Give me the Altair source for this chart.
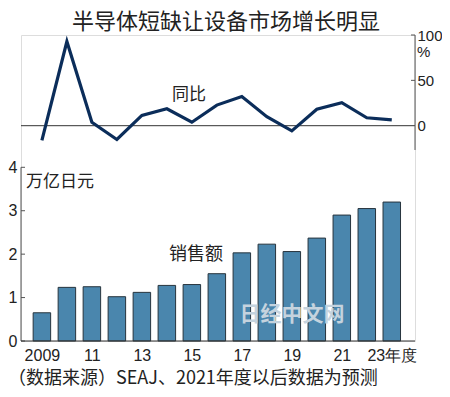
import altair as alt
import pandas as pd

years = list(range(2009, 2024))
sales = [0.65, 1.235, 1.25, 1.02, 1.12, 1.28, 1.30, 1.55, 2.03, 2.23, 2.06, 2.37, 2.90, 3.05, 3.20]
yoy = [-16.3, 92.8, 3.8, -15.2, 11.4, 18.6, 3.8, 22.7, 32.2, 10.0, -5.7, 18.2, 25.4, 8.7, 6.4]
bar_ticks = [0, 1, 2, 3, 4]
pct_ticks = [0, 50, 100]
x_label_years = [2009, 2011, 2013, 2015, 2017, 2019, 2021, 2023]

title = "半导体短缺让设备市场增长明显"
footer = "（数据来源）SEAJ、2021年度以后数据为预测"

W, H = 394, 306
CJK = "Noto Sans CJK SC"
NUM = "Liberation Sans"
AX = "#555555"

df = pd.DataFrame({"year": years, "sales": sales, "yoy": yoy})

xs = alt.Scale(domain=[2008.364, 2023.729], nice=False, zero=False)
ys_bar = alt.Scale(domain=[0, 7.047], nice=False, zero=False)
ys_pct = alt.Scale(domain=[-237.4, 100], nice=False, zero=False)

x_axis = alt.Axis(
    values=x_label_years, ticks=False, domain=False, grid=False, title=None,
    labelExpr="datum.value == 2009 ? '2009' : (datum.value == 2023 ? '23年度' : '' + (datum.value % 100))",
    labelFont=NUM, labelFontSize=16, labelColor="#222", labelPadding=6, labelFlush=False,
)

bars = alt.Chart(df).mark_bar(size=17.5, color="#4a86ad", stroke="#27343d", strokeWidth=1).encode(
    x=alt.X("year:Q", scale=xs, axis=x_axis),
    y=alt.Y("sales:Q", scale=ys_bar, axis=alt.Axis(
        values=bar_ticks, ticks=False, domain=False, grid=False, title=None,
        labelFont=NUM, labelFontSize=16, labelColor="#222", labelPadding=4)),
)

tick_df = pd.DataFrame({"v": bar_ticks})
bar_tick_marks = alt.Chart(tick_df).mark_rule(color=AX, strokeWidth=1).encode(
    y=alt.Y("v:Q", scale=ys_bar), x=alt.value(0), x2=alt.value(4))
left_axis_line = alt.Chart(pd.DataFrame({"a": [0], "b": [4]})).mark_rule(color=AX, strokeWidth=1).encode(
    y=alt.Y("a:Q", scale=ys_bar), y2="b:Q", x=alt.value(0))
base_line = alt.Chart(pd.DataFrame({"a": [0]})).mark_rule(color="#333", strokeWidth=1.2).encode(
    y=alt.Y("a:Q", scale=ys_bar), x=alt.value(0), x2=alt.value(W))

bar_layer = alt.layer(bars, bar_tick_marks, left_axis_line, base_line)

line = alt.Chart(df).mark_line(color="#0b2d5a", strokeWidth=3.2, strokeJoin="miter").encode(
    x=alt.X("year:Q", scale=xs, axis=x_axis),
    y=alt.Y("yoy:Q", scale=ys_pct, axis=alt.Axis(
        orient="right", values=pct_ticks, ticks=False, domain=False, grid=False, title=None,
        labelFont=NUM, labelFontSize=15, labelColor="#222", labelPadding=2, labelAlign="left")),
)
zero_line = alt.Chart(pd.DataFrame({"a": [0]})).mark_rule(color="#333", strokeWidth=1).encode(
    y=alt.Y("a:Q", scale=ys_pct), x=alt.value(0), x2=alt.value(W))
right_axis_line = alt.Chart(pd.DataFrame({"a": [-26.8], "b": [100]})).mark_rule(color=AX, strokeWidth=1).encode(
    y=alt.Y("a:Q", scale=ys_pct), y2="b:Q", x=alt.value(W))
pct_tick_marks = alt.Chart(pd.DataFrame({"v": [50, 100]})).mark_rule(color=AX, strokeWidth=1).encode(
    y=alt.Y("v:Q", scale=ys_pct), x=alt.value(W - 4), x2=alt.value(W))

line_layer = alt.layer(zero_line, right_axis_line, pct_tick_marks, line)

def label(text, x, y, size, align="center", font=CJK, color="#222", weight="normal"):
    return alt.Chart(pd.DataFrame({"t": [text]})).mark_text(
        font=font, fontSize=size, align=align, baseline="middle", color=color, fontWeight=weight
    ).encode(text="t:N", x=alt.value(x), y=alt.value(y))

texts = alt.layer(
    label(title, 205, -13, 22),
    label("%", 396, 17, 15, align="left", font=NUM),
    label("同比", 168, 60, 17),
    label("万亿日元", 5, 147, 17, align="left"),
    label("销售额", 175, 220, 18),
    label("日经中文网", 271, 280, 21, color="#c5d3de", weight="bold"),
    label(footer, -13, 344, 18, align="left"),
)

chart = alt.layer(bar_layer, line_layer, texts).resolve_scale(y="independent").properties(
    width=W, height=H,
    autosize=alt.AutoSizeParams(type="none"),
    padding={"left": 13, "top": 27, "right": 27, "bottom": 48},
).configure_view(stroke=None).configure(background="white")

chart.save("out.html", embed_options={"renderer": "svg", "actions": False})
